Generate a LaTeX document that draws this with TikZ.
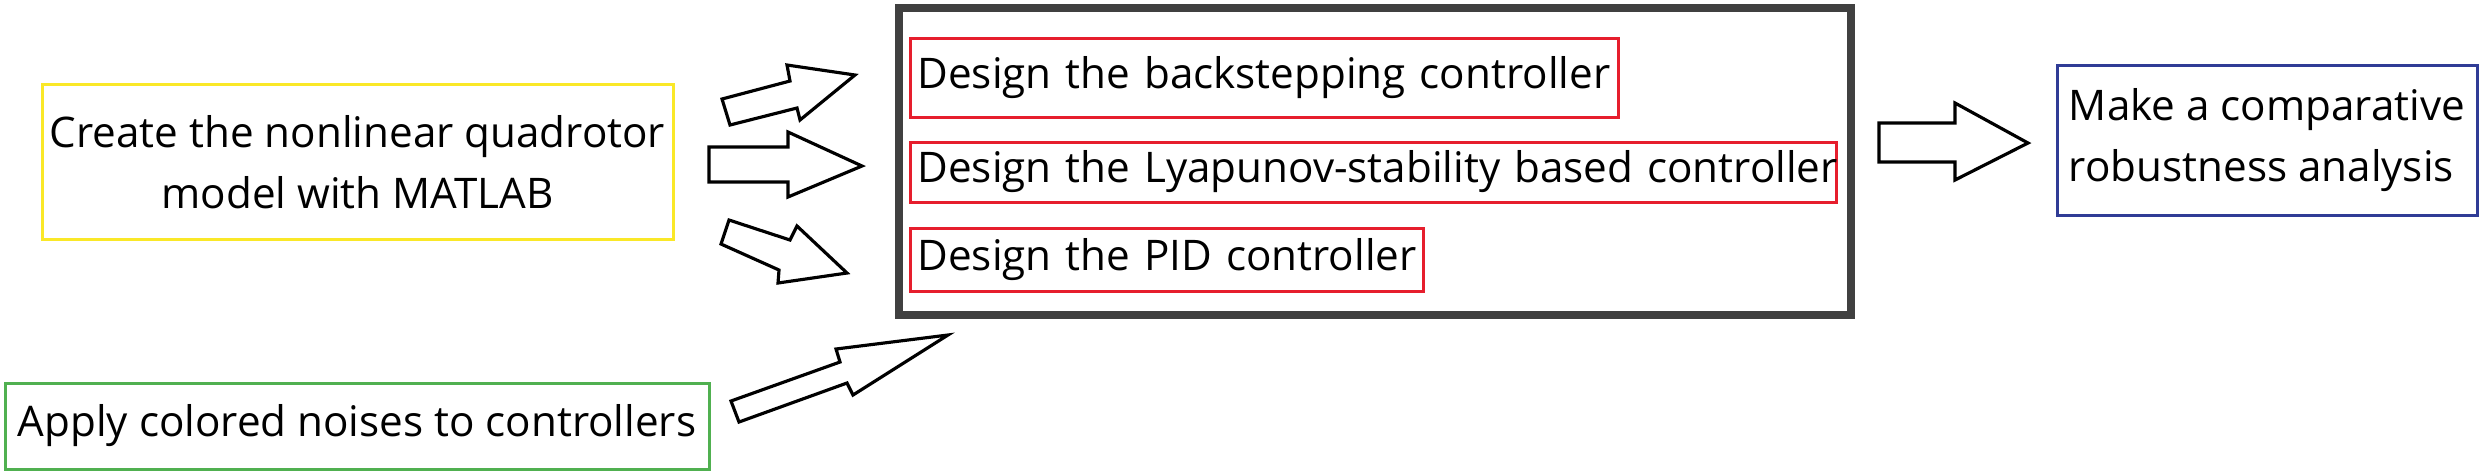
\documentclass[tikz,border=0pt]{standalone}
\usepackage{fontspec}
\setmainfont{Open Sans}
\definecolor{stepyellow}{RGB}{250,232,40}
\definecolor{stepgreen}{RGB}{80,176,80}
\definecolor{stepred}{RGB}{230,30,45}
\definecolor{stepblue}{RGB}{48,60,150}
\definecolor{framegray}{RGB}{64,64,64}
\begin{document}
\begin{tikzpicture}[x=0.1mm,y=-0.1mm,
  box/.style={draw,line width=0.03cm,inner sep=0pt,font=\fontsize{12}{17.4}\selectfont},
  redbox/.style={box,draw=stepred,anchor=west,align=left,inner xsep=0.07cm},
  blockarrow/.style={draw=black,fill=white,line width=0.9pt,line join=miter}]
\useasboundingbox (0,0) rectangle (2483,475);
% the two starting tasks
\node[box,draw=stepyellow,minimum width=6.31cm,minimum height=1.55cm,align=center] (model) at (357.5,162) {Create the nonlinear quadrotor\\model with MATLAB};
\node[box,draw=stepgreen,minimum width=7.04cm,minimum height=0.86cm] (noise) at (357,426) {Apply colored noises to controllers};
% the controller designs
\node[draw=framegray,line width=0.08cm,minimum width=9.52cm,minimum height=3.07cm] (design) at (1375,161.5) {};
\node[redbox,text width=6.94cm,minimum height=0.79cm] (backstep) at (909,77.5) {\mbox{Design the backstepping controller}};
\node[redbox,text width=9.12cm,minimum height=0.60cm] (lyapunov) at (909,172) {\mbox{Design the Lyapunov-stability based controller}};
\node[redbox,text width=4.99cm,minimum height=0.63cm] (pid) at (909,259.5) {\mbox{Design the PID controller}};
% the result
\node[box,draw=stepblue,minimum width=4.20cm,minimum height=1.50cm,align=left] (robust) at (2267,140) {Make a comparative\\robustness analysis};
% block arrows
\draw[blockarrow] (722,99)--(790,81)--(787,65)--(855,75)--(800,120)--(797,108)--(730,125)--cycle;
\draw[blockarrow] (709,147)--(788,147)--(788,132)--(862,166)--(788,197)--(788,182)--(709,182)--cycle;
\draw[blockarrow] (729,220)--(790,240)--(797,226)--(847,273)--(778,283)--(779,270)--(721,244)--cycle;
\draw[blockarrow] (731,401)--(840,362)--(836,349)--(948,335)--(853,395)--(847,383)--(739,422)--cycle;
\draw[blockarrow] (1879,123)--(1955,123)--(1955,103)--(2028,143)--(1955,180)--(1955,162)--(1879,162)--cycle;
\end{tikzpicture}
\end{document}
